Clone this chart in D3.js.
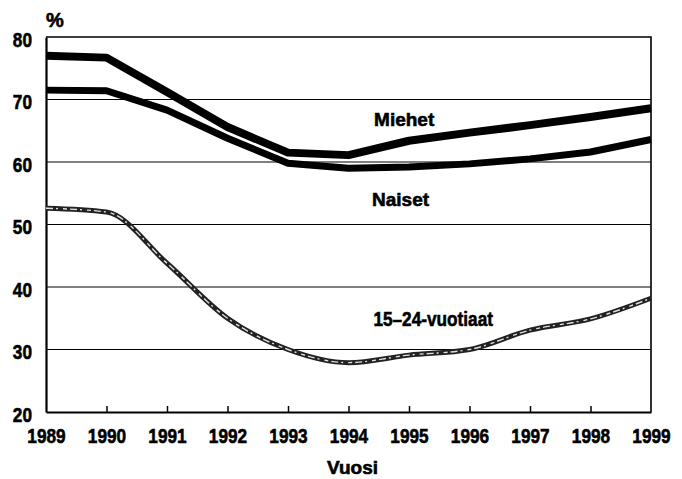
<!DOCTYPE html>
<html>
<head>
	<meta charset="utf-8">
	<title>Työllisyysaste</title>
	<script type="text/javascript" src="https://cdn.jsdelivr.net/npm/d3@7"></script>
	<style>
		body {
			margin: 0;
			background: #fff;
			font-family: "Liberation Sans", Arial, sans-serif;
		}
	</style>
</head>

<body>

	<div id="chart"></div>

	<script>

		// data

		const years = [1989, 1990, 1991, 1992, 1993, 1994, 1995, 1996, 1997, 1998, 1999];
		const miehet = [77.0, 76.7, 71.2, 65.6, 61.5, 61.1, 63.4, 64.7, 65.9, 67.2, 68.6];
		const naiset = [71.5, 71.4, 68.3, 63.8, 59.8, 59.0, 59.2, 59.7, 60.5, 61.6, 63.6];
		const nuoret = [52.6, 52.0, 43.8, 35.0, 30.0, 27.9, 29.1, 30.0, 33.1, 34.9, 38.2];
		const yTicks = [20, 30, 40, 50, 60, 70, 80];

		const width = 682;
		const height = 479;
		const margin = { top: 37, right: 31, bottom: 67, left: 46 };

		const font = "'Liberation Sans', Arial, sans-serif";
		const squeeze = 0.82; // condensed look for the numbers
		const heavy = 0.6;    // extra stroke so the text looks as black as the print

		const x = d3.scaleLinear()
			.domain([1989, 1999])
			.range([margin.left, width - margin.right]);

		const y = d3.scaleLinear()
			.domain([20, 80])
			.range([height - margin.bottom, margin.top]);

		const svg = d3.select("#chart")
			.append("svg")
			.attr("width", width)
			.attr("height", height)
			.attr("font-family", font)
			.attr("font-weight", "bold");

		// gridlines
		svg.append("g")
			.selectAll("line")
			.data(yTicks.filter(d => d > 20 && d < 80))
			.join("line")
			.attr("x1", x(1989))
			.attr("x2", x(1999))
			.attr("y1", d => y(d))
			.attr("y2", d => y(d))
			.attr("stroke", "#000")
			.attr("stroke-width", 1.2);

		// frame
		svg.append("path")
			.attr("d", `M${x(1989)},${y(80)}H${x(1999)}V${y(20)}`)
			.attr("fill", "none")
			.attr("stroke", "#000")
			.attr("stroke-width", 1.6);

		// left axis
		const yAxis = svg.append("g")
			.attr("transform", `translate(${x(1989)},0)`)
			.call(d3.axisLeft(y).tickValues(yTicks).tickSize(0).tickPadding(14));
		yAxis.select(".domain").attr("stroke-width", 2.2);
		yAxis.selectAll("text")
			.attr("font-family", font)
			.attr("font-weight", "bold")
			.attr("font-size", 21)
			.attr("fill", "#000")
			.attr("stroke", "#000")
			.attr("stroke-width", heavy)
			.attr("x", -14 / squeeze)
			.attr("dy", "0.38em")
			.attr("transform", `translate(0,1.5) scale(${squeeze},1)`);

		// bottom axis, ticks pointing inward
		const xAxis = svg.append("g")
			.attr("transform", `translate(0,${y(20)})`)
			.call(d3.axisBottom(x).tickValues(years).tickFormat(d3.format("d")).tickSize(0).tickPadding(16));
		xAxis.select(".domain").attr("stroke-width", 2);
		xAxis.selectAll("text")
			.attr("font-family", font)
			.attr("font-weight", "bold")
			.attr("font-size", 21)
			.attr("fill", "#000")
			.attr("stroke", "#000")
			.attr("stroke-width", heavy)
			.attr("transform", `scale(${squeeze},1)`);
		xAxis.selectAll(".tick")
			.filter(d => d > 1989 && d < 1999)
			.append("line")
			.attr("y1", 0)
			.attr("y2", -6)
			.attr("stroke", "#000")
			.attr("stroke-width", 1.5);

		// series
		const line = (vals, curve) => d3.line()
			.x((d, i) => x(years[i]))
			.y(d => y(d))
			.curve(curve)(vals);

		svg.append("path")
			.attr("d", line(miehet, d3.curveLinear))
			.attr("fill", "none")
			.attr("stroke", "#000")
			.attr("stroke-width", 8)
			.attr("stroke-linejoin", "round");

		svg.append("path")
			.attr("d", line(naiset, d3.curveLinear))
			.attr("fill", "none")
			.attr("stroke", "#000")
			.attr("stroke-width", 7)
			.attr("stroke-linejoin", "round");

		// textured youth line
		svg.append("path")
			.attr("d", line(nuoret, d3.curveMonotoneX))
			.attr("fill", "none")
			.attr("stroke", "#222")
			.attr("stroke-width", 5);
		svg.append("path")
			.attr("d", line(nuoret, d3.curveMonotoneX))
			.attr("fill", "none")
			.attr("stroke", "#fff")
			.attr("stroke-width", 1.4)
			.attr("stroke-dasharray", "7 3 2 5 4 3")
			.attr("opacity", 0.85);

		// labels
		const labels = [
			{ text: "Miehet", x: 1994.92, y: 65.8, size: 19, sx: 1 },
			{ text: "Naiset", x: 1994.86, y: 52.9, size: 19, sx: 1 },
			{ text: "15–24-vuotiaat", x: 1995.4, y: 33.8, size: 21, sx: squeeze }
		];
		svg.append("g")
			.selectAll("text")
			.data(labels)
			.join("text")
			.attr("x", d => x(d.x) / d.sx)
			.attr("y", d => y(d.y))
			.attr("transform", d => `scale(${d.sx},1)`)
			.attr("text-anchor", "middle")
			.attr("font-size", d => d.size)
			.attr("stroke", "#000")
			.attr("stroke-width", heavy)
			.text(d => d.text);

		svg.append("text")
			.attr("x", 46)
			.attr("y", 27)
			.attr("font-size", 20)
			.attr("stroke", "#000")
			.attr("stroke-width", heavy)
			.text("%");

		svg.append("text")
			.attr("x", x(1994) + 4)
			.attr("y", 474)
			.attr("text-anchor", "middle")
			.attr("font-size", 19)
			.attr("stroke", "#000")
			.attr("stroke-width", heavy)
			.text("Vuosi");

	</script>

</body>

</html>
